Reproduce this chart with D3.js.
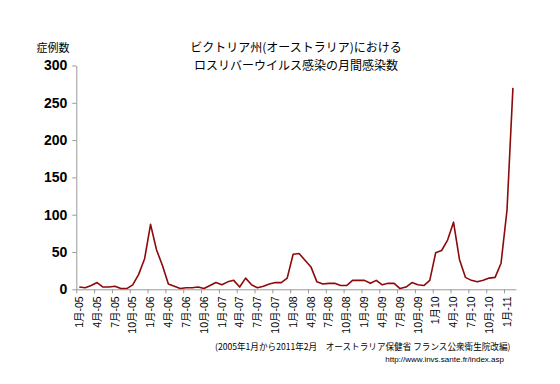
<!DOCTYPE html>
<html>
<head>
<meta charset="utf-8">
<script src="https://cdn.jsdelivr.net/npm/d3@7"></script>
<style>
  body { margin: 0; background: #fff; }
  svg { display: block; }
  text { font-family: "Liberation Sans", Arial, "Noto Sans CJK JP", sans-serif; }
  .jp { font-family: "Noto Sans CJK JP", sans-serif; }
</style>
</head>
<body>
<svg id="chart" width="560" height="384"></svg>
<script>
// monthly cases, Jan 2005 .. Feb 2011
var cases = [3, 2, 5, 9, 3, 3, 4, 1, 1, 6, 20, 41,
  87, 53, 32, 7, 4, 1, 2, 2, 3, 1, 5, 9,
  6, 10, 12, 3, 15, 6, 2, 4, 7, 9, 9, 15,
  47, 48, 39, 30, 10, 7, 8, 8, 5, 5, 12, 12,
  12, 8, 12, 6, 8, 8, 1, 3, 9, 6, 5, 12,
  49, 52, 66, 90, 40, 16, 12, 10, 12, 15, 16, 35,
  106, 270];

// one label every 3 months
var monthLabels = ["1月-05", "4月-05", "7月-05", "10月-05",
  "1月-06", "4月-06", "7月-06", "10月-06",
  "1月-07", "4月-07", "7月-07", "10月-07",
  "1月-08", "4月-08", "7月-08", "10月-08",
  "1月-09", "4月-09", "7月-09", "10月-09",
  "1月10", "4月-10", "7月-10", "10月-10",
  "1月-11"];

var yTicks = [0, 50, 100, 150, 200, 250, 300];

var titleLines = ["ビクトリア州(オーストラリア)における", "ロスリバーウイルス感染の月間感染数"];
var yTitle = "症例数";
var sourceText = "(2005年1月から2011年2月　オーストラリア保健省 フランス公衆衛生院改編)";
var urlText = "http://www.invs.sante.fr/index.asp";

var svg = d3.select("#chart");

var x = d3.scaleLinear().domain([0, cases.length]).range([76.3, 515.9]);
var y = d3.scaleLinear().domain([0, 300]).range([289.3, 65.5]);

/* y axis */
var yAxis = svg.append("g")
  .attr("transform", "translate(76.3,0)")
  .call(d3.axisLeft(y).tickValues(yTicks).tickSize(4).tickSizeOuter(0).tickPadding(5));
yAxis.select(".domain").attr("stroke", "#999");
yAxis.selectAll(".tick line").attr("stroke", "#999");
yAxis.selectAll(".tick text")
  .attr("fill", "#000")
  .style("font-size", "14px")
  .style("font-weight", "bold");

/* x axis, ticks between categories */
var xAxis = svg.append("g")
  .attr("transform", "translate(0," + y(0) + ")")
  .call(d3.axisBottom(x).tickValues(d3.range(0, cases.length, 3)).tickSize(4).tickSizeOuter(0).tickFormat(""));
xAxis.select(".domain").attr("stroke", "#999");
xAxis.selectAll(".tick line").attr("stroke", "#999");

svg.append("g").selectAll("text")
  .data(monthLabels)
  .enter().append("text")
  .attr("transform", function(d, i) {
    return "translate(" + x(i * 3 + 0.5) + "," + (y(0) + 7) + ") rotate(-90)";
  })
  .attr("dy", "0.35em")
  .attr("text-anchor", "end")
  .style("font-size", "10.5px")
  .text(function(d) { return d; });

/* the line */
var line = d3.line()
  .x(function(d, i) { return x(i + 0.5); })
  .y(function(d) { return y(d); });

svg.append("path")
  .datum(cases)
  .attr("d", line)
  .attr("fill", "none")
  .attr("stroke", "#8b0a0a")
  .attr("stroke-width", 1.6)
  .attr("stroke-linejoin", "round");

/* texts */
svg.append("text").attr("class", "jp")
  .attr("x", 53).attr("y", 52)
  .attr("text-anchor", "middle")
  .style("font-size", "11px")
  .text(yTitle);

svg.selectAll(".title")
  .data(titleLines)
  .enter().append("text")
  .attr("class", "jp title")
  .attr("x", 296)
  .attr("y", function(d, i) { return 52 + i * 18; })
  .attr("text-anchor", "middle")
  .style("font-size", "12px")
  .text(function(d) { return d; });

svg.append("text").attr("class", "jp")
  .attr("x", 215).attr("y", 350)
  .style("font-size", "8.6px")
  .text(sourceText);

svg.append("text")
  .attr("x", 504).attr("y", 362)
  .attr("text-anchor", "end")
  .style("font-size", "8px")
  .text(urlText);
</script>
</body>
</html>
